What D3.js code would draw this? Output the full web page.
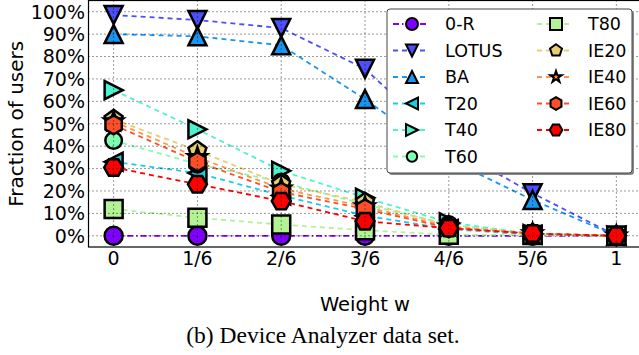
<!DOCTYPE html>
<html lang="en">
<head>
  <meta charset="utf-8" />
  <title>Device Analyzer data set</title>
  <script src="https://cdnjs.cloudflare.com/ajax/libs/d3/7.8.5/d3.min.js"></script>
  <style>
    body { margin: 0; background: #fff; }
    svg { display: block; font-family: 'DejaVu Sans', sans-serif; }
  </style>
</head>
<body>
<svg id="chart" width="639" height="355"></svg>
<script>
// ---- data (fraction of users, %) ----
const weights = [0, 1/6, 2/6, 3/6, 4/6, 5/6, 1];
const xTickLabels = ["0", "1/6", "2/6", "3/6", "4/6", "5/6", "1"];
const yTicks = [0, 10, 20, 30, 40, 50, 60, 70, 80, 90, 100];
const seriesNames = ["0-R", "LOTUS", "BA", "T20", "T40", "T60", "T80", "IE20", "IE40", "IE60", "IE80"];

const zeroR = [0, 0, 0, 0, 0, 0, 0];
const lotus = [98.5, 96.3, 92.7, 74.5, 40, 19, 0];
const ba    = [90, 89, 85, 61, 34, 16, 0];
const t20   = [33, 28, 18, 9, 3, 0.5, 0];
const t40   = [65, 47.5, 29, 17, 6, 0.8, 0];
const t60   = [42.5, 32, 24, 14, 5, 0.8, 0];
const t80   = [12, 8, 5, 2.5, 0.5, 0.3, 0];
const ie20  = [52, 38, 23, 15, 4.5, 1, 0];
const ie40  = [51, 35, 21, 13, 4, 1, 0];
const ie60  = [49.5, 33, 19.5, 12, 3.5, 1, 0];
const ie80  = [30.5, 23, 15.5, 6.5, 3.4, 1, 0];

const seriesValues = [zeroR, lotus, ba, t20, t40, t60, t80, ie20, ie40, ie60, ie80];
const markers = ["o", "v", "^", "<", ">", "o", "s", "p", "*", "h", "H"];

// matplotlib "rainbow" colormap, evenly spaced
const rainbow = t => d3.rgb(
  255 * Math.min(1, Math.abs(2 * t - 0.5)),
  255 * Math.sin(t * Math.PI),
  255 * Math.cos(t * Math.PI / 2)
).formatHex();
const colors = seriesNames.map((d, i) => rainbow(i / (seriesNames.length - 1)));

const series = seriesNames.map((name, i) => ({
  name,
  marker: markers[i],
  color: colors[i],
  values: weights.map((w, j) => ({ w, v: seriesValues[i][j] }))
}));

// ---- marker paths ----
function poly(n, r, start) {
  const pts = d3.range(n).map(k => {
    const a = (start + k * 360 / n) * Math.PI / 180;
    return [r * Math.cos(a), r * Math.sin(a)];
  });
  return "M" + pts.map(p => p.join(",")).join("L") + "Z";
}
function markerPath(m, r) {
  switch (m) {
    case "o": return `M${r},0A${r},${r} 0 1 1 ${-r},0A${r},${r} 0 1 1 ${r},0Z`;
    case "s": return `M${-r},${-r}H${r}V${r}H${-r}Z`;
    case "^": return `M0,${-r}L${r},${r}L${-r},${r}Z`;
    case "v": return `M0,${r}L${r},${-r}L${-r},${-r}Z`;
    case "<": return `M${-r},0L${r},${-r}L${r},${r}Z`;
    case ">": return `M${r},0L${-r},${-r}L${-r},${r}Z`;
    case "p": return poly(5, r * 1.05, -90);
    case "h": return poly(6, r * 1.05, -90);
    case "H": return poly(6, r * 1.05, 0);
    case "*": {
      const pts = d3.range(10).map(k => {
        const rr = k % 2 ? r * 0.42 : r * 1.1;
        const a = (-90 + k * 36) * Math.PI / 180;
        return [rr * Math.cos(a), rr * Math.sin(a)];
      });
      return "M" + pts.map(p => p.join(",")).join("L") + "Z";
    }
  }
}

// ---- chart ----
const svg = d3.select("#chart");
const plotLeft = 88.5, plotRight = 641.5, plotTop = 0.5, plotBottom = 247;

const x = d3.scaleLinear().domain([-0.05, 1.05]).range([plotLeft, plotRight]);
const y = d3.scaleLinear().domain([-5, 105]).range([plotBottom, plotTop]);

const plot = svg.append("g");

const line = d3.line().x(d => x(d.w)).y(d => y(d.v));

series.forEach((s, i) => {
  const g = plot.append("g");
  g.append("path")
    .datum(s.values)
    .attr("fill", "none")
    .attr("stroke", s.color)
    .attr("stroke-width", 1.8)
    .attr("stroke-dasharray", i === 0 ? "6,3,1.5,3" : "5,4")
    .attr("d", line);

  g.selectAll("path.mk")
    .data(s.values)
    .enter()
    .append("path")
    .attr("class", "mk")
    .attr("transform", d => `translate(${x(d.w)},${y(d.v)})`)
    .attr("d", markerPath(s.marker, i === 5 ? 8.3 : 9))
    .attr("fill", s.color)
    .attr("stroke", "#000")
    .attr("stroke-width", 2.5);
});

// dotted grid on top of the markers
const grid = svg.append("g")
  .attr("stroke", "#000")
  .attr("stroke-width", 0.8)
  .attr("stroke-dasharray", "1,3");
grid.selectAll("line.gx")
  .data(weights)
  .enter()
  .append("line")
  .attr("class", "gx")
  .attr("x1", d => x(d)).attr("x2", d => x(d))
  .attr("y1", plotTop).attr("y2", plotBottom);
grid.selectAll("line.gy")
  .data(yTicks)
  .enter()
  .append("line")
  .attr("class", "gy")
  .attr("y1", d => y(d)).attr("y2", d => y(d))
  .attr("x1", plotLeft).attr("x2", plotRight);

// frame
svg.append("rect")
  .attr("x", plotLeft).attr("y", plotTop)
  .attr("width", plotRight - plotLeft).attr("height", plotBottom - plotTop)
  .attr("fill", "none")
  .attr("stroke", "#000")
  .attr("stroke-width", 1.2);

// tick labels
svg.append("g").selectAll("text")
  .data(yTicks)
  .enter()
  .append("text")
  .attr("x", plotLeft - 3.5)
  .attr("y", d => y(d))
  .attr("dy", "0.36em")
  .attr("text-anchor", "end")
  .style("font-size", "19px")
  .text(d => `${d}%`);

svg.append("g").selectAll("text")
  .data(weights)
  .enter()
  .append("text")
  .attr("x", d => x(d))
  .attr("y", 265)
  .attr("text-anchor", "middle")
  .style("font-size", "19px")
  .text((d, i) => xTickLabels[i]);

// axis titles
svg.append("text")
  .attr("transform", `translate(23,${(plotTop + plotBottom) / 2}) rotate(-90)`)
  .attr("text-anchor", "middle")
  .style("font-size", "20px")
  .text("Fraction of users");

svg.append("text")
  .attr("x", (plotLeft + plotRight) / 2)
  .attr("y", 311)
  .attr("text-anchor", "middle")
  .style("font-size", "19.5px")
  .text("Weight w");

svg.append("text")
  .attr("x", 323)
  .attr("y", 343)
  .attr("text-anchor", "middle")
  .style("font-family", "'Liberation Serif', serif")
  .style("font-size", "23.5px")
  .text("(b) Device Analyzer data set.");

// legend
const legend = svg.append("g");
legend.append("rect")
  .attr("x", 389).attr("y", 11)
  .attr("width", 245).attr("height", 164)
  .attr("rx", 3)
  .attr("fill", "#888");
legend.append("rect")
  .attr("x", 387).attr("y", 9)
  .attr("width", 245).attr("height", 164)
  .attr("rx", 3)
  .attr("fill", "#fff")
  .attr("stroke", "#444")
  .attr("stroke-width", 1);

series.forEach((s, i) => {
  const col = i < 6 ? 0 : 1;
  const row = i < 6 ? i : i - 6;
  const ox = col === 0 ? 393 : 537;
  const oy = 24 + row * 26.5;
  const item = legend.append("g").attr("transform", `translate(${ox},${oy})`);
  item.append("line")
    .attr("x1", 0).attr("x2", 36)
    .attr("stroke", s.color)
    .attr("stroke-width", 1.8)
    .attr("stroke-dasharray", i === 0 ? "6,3,1.5,3" : "5,4");
  item.append("path")
    .attr("transform", "translate(19,0)")
    .attr("d", markerPath(s.marker, s.marker === "*" ? 5.5 : (i === 5 ? 5.2 : 6)))
    .attr("fill", s.color)
    .attr("stroke", "#000")
    .attr("stroke-width", 2);
  item.append("text")
    .attr("x", col === 0 ? 52 : 51)
    .attr("dy", "0.36em")
    .style("font-size", "17.5px")
    .text(s.name);
});
</script>
</body>
</html>
